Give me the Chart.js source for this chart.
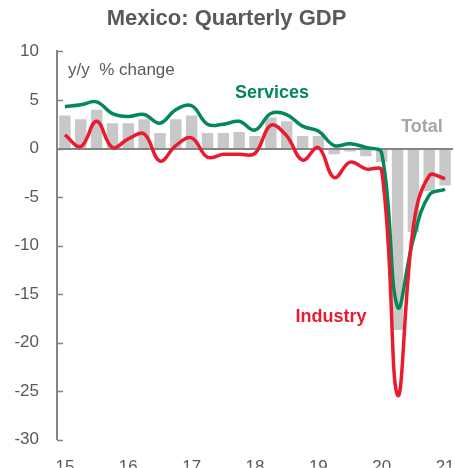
<!DOCTYPE html>
<html>
<head>
<meta charset="utf-8">
<title>Mexico: Quarterly GDP</title>
<script src="https://cdn.jsdelivr.net/npm/chart.js@4/dist/chart.umd.min.js"></script>
<style>
    html, body { margin: 0; padding: 0; background: #ffffff; }
    #wrap { width: 455px; height: 468px; }
</style>
</head>
<body>
<div id="wrap"><canvas id="gdpChart" width="455" height="468"></canvas></div>
<script>
// Quarters 2015Q1 - 2021Q1
const quarters = [
    '15Q1', '15Q2', '15Q3', '15Q4',
    '16Q1', '16Q2', '16Q3', '16Q4',
    '17Q1', '17Q2', '17Q3', '17Q4',
    '18Q1', '18Q2', '18Q3', '18Q4',
    '19Q1', '19Q2', '19Q3', '19Q4',
    '20Q1', '20Q2', '20Q3', '20Q4',
    '21Q1'
];
const yearLabels = ['15', '16', '17', '18', '19', '20', '21'];

// y/y % change
const totalGdp = [
    3.4, 3.0, 4.0, 2.6,
    2.6, 3.0, 1.6, 3.0,
    3.4, 1.6, 1.6, 1.7,
    1.3, 3.2, 2.8, 1.3,
    1.3, -0.6, -0.3, -0.8,
    -1.4, -18.7, -8.6, -4.4,
    -3.8
];
const services = [
    4.3, 4.5, 4.8, 3.6,
    3.3, 3.5, 2.6, 4.0,
    4.4, 2.5, 2.5, 2.8,
    1.9, 3.6, 3.5, 2.3,
    1.8, 0.3, 0.5, 0.1,
    -0.5, -16.3, -9.3, -4.8,
    -4.2
];
const industry = [
    1.4, 0.2, 2.8, 0.1,
    1.0, 1.5, -1.3, 0.3,
    1.1, -0.9, -0.6, -0.6,
    -0.5, 2.4, 1.3, -1.2,
    0.1, -3.0, -1.4, -2.1,
    -2.3, -25.4, -8.0, -2.8,
    -3.1
];

const GREEN = '#04875A';
const RED = '#EA1B2F';
const BAR_GREY = '#C8C8C8';
const AXIS_GREY = '#858585';
const TEXT_GREY = '#595959';
const FONT = '"Liberation Sans", Arial, sans-serif';

// Zero line and inward y ticks, drawn right after the bars so the lines sit on top
const axisDecor = {
    id: 'axisDecor',
    afterDatasetDraw(chart, args) {
        if (args.index !== 0) return;
        const { ctx, chartArea } = chart;
        const y = chart.scales.y;
        ctx.save();
        ctx.strokeStyle = AXIS_GREY;
        ctx.lineWidth = 2;
        const zero = Math.round(y.getPixelForValue(0));
        ctx.beginPath();
        ctx.moveTo(chartArea.left, zero);
        ctx.lineTo(chartArea.right, zero);
        ctx.stroke();
        ctx.lineWidth = 1.5;
        y.ticks.forEach(t => {
            const py = Math.round(y.getPixelForValue(t.value)) + 0.5;
            ctx.beginPath();
            ctx.moveTo(chartArea.left, py);
            ctx.lineTo(chartArea.left + 6, py);
            ctx.stroke();
        });
        ctx.restore();
    }
};

// Series names and unit note
const seriesLabels = {
    id: 'seriesLabels',
    afterDraw(chart) {
        const { ctx } = chart;
        ctx.save();
        ctx.textBaseline = 'middle';
        ctx.textAlign = 'left';
        ctx.font = '17px ' + FONT;
        ctx.fillStyle = TEXT_GREY;
        ctx.fillText('y/y  % change', 68, 70);
        ctx.textAlign = 'center';
        ctx.font = 'bold 18px ' + FONT;
        ctx.fillStyle = GREEN;
        ctx.fillText('Services', 272, 93);
        ctx.fillStyle = '#A6A6A6';
        ctx.fillText('Total', 422, 127);
        ctx.fillStyle = RED;
        ctx.fillText('Industry', 331, 317);
        ctx.restore();
    }
};

const ctx = document.getElementById('gdpChart').getContext('2d');

new Chart(ctx, {
    type: 'bar',
    data: {
        labels: quarters,
        datasets: [
            {
                label: 'Total',
                data: totalGdp,
                backgroundColor: BAR_GREY,
                borderWidth: 0,
                barPercentage: 0.72,
                categoryPercentage: 1.0,
                order: 3
            },
            {
                type: 'line',
                label: 'Services',
                data: services,
                borderColor: GREEN,
                borderWidth: 3.5,
                pointRadius: 0,
                tension: 0.4,
                fill: false,
                order: 2
            },
            {
                type: 'line',
                label: 'Industry',
                data: industry,
                borderColor: RED,
                borderWidth: 3.5,
                pointRadius: 0,
                tension: 0.4,
                fill: false,
                order: 1
            }
        ]
    },
    options: {
        responsive: false,
        animation: false,
        layout: {
            padding: { left: 0, right: 2, top: 0, bottom: 0 }
        },
        plugins: {
            legend: { display: false },
            tooltip: { enabled: false },
            title: {
                display: true,
                text: 'Mexico: Quarterly GDP',
                color: TEXT_GREY,
                font: { family: FONT, size: 22, weight: 'bold' },
                padding: { top: 6, bottom: 19 }
            }
        },
        scales: {
            x: {
                type: 'category',
                offset: true,
                grid: { display: false, drawTicks: false },
                border: { display: false },
                ticks: {
                    autoSkip: false,
                    maxRotation: 0,
                    padding: 17,
                    color: TEXT_GREY,
                    font: { family: FONT, size: 17 },
                    callback: function(value, index) {
                        return index % 4 === 0 ? yearLabels[index / 4] : '';
                    }
                },
                afterFit(scale) {
                    // let the plot run to the right edge, label "21" may overhang
                    scale.height = 28;
                    scale.paddingLeft = 0;
                    scale.paddingRight = 0;
                }
            },
            y: {
                min: -30,
                max: 10,
                grid: { display: false, drawTicks: false },
                border: { display: true, color: AXIS_GREY, width: 2 },
                ticks: {
                    stepSize: 5,
                    padding: 18,
                    color: TEXT_GREY,
                    font: { family: FONT, size: 17 }
                },
                afterFit(scale) { scale.width = 57; }
            }
        }
    },
    plugins: [axisDecor, seriesLabels]
});
</script>
</body>
</html>
